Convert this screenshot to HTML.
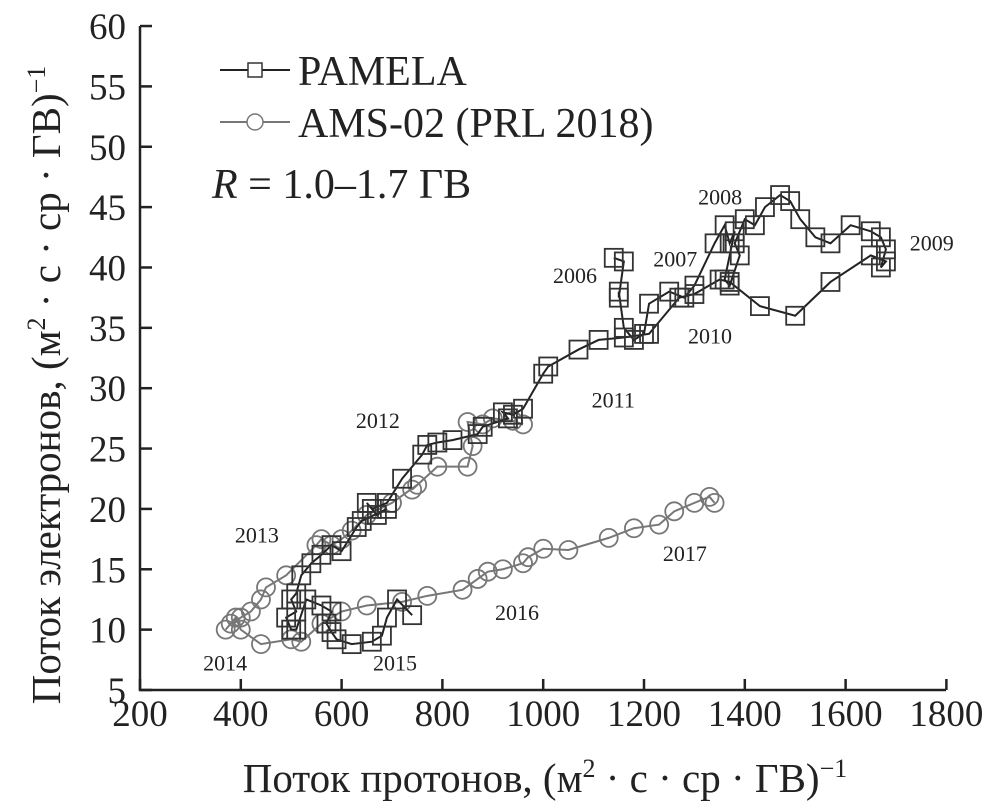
<!DOCTYPE html>
<html><head><meta charset="utf-8"><style>
body{margin:0;background:#fff}
svg{display:block;font-family:"Liberation Serif",serif}
</style></head><body>
<svg id="chart" width="993" height="809">
<g id="axes"></g><g id="ams"></g><g id="pam"></g><g id="ann"></g>
</svg>
<script>
const xTicks=[200,400,600,800,1000,1200,1400,1600,1800];
const yTicks=[5,10,15,20,25,30,35,40,45,50,55,60];
const pamX=[1140,1160,1150,1150,1160,1180,1200,1210,1250,1280,1300,1340,1360,1370,1380,1360,1370,1390,1380,1400,1420,1440,1470,1490,1510,1540,1570,1610,1650,1670,1680,1670,1680,1650,1570,1500,1430,1370,1350,1300,1270,1210,1160,1110,1070,1010,1000,960,940,920,930,880,870,820,790,770,760,720,690,660,650,670,690,640,630,600,580,560,540,520,510,500,510,490,500,510,530,560,580,570,580,590,620,660,680,690,710,740];
const pamY=[40.8,40.5,37.5,38,35,34,34.5,37,38,37.5,38.5,42,43.5,42,43,39,38.5,41,42,44,43.5,45,46,45.5,44,42.5,42,43.5,43,42.5,41.5,40,40.5,41,38.8,36,36.8,38.8,39,37.8,37.5,34.5,34.2,34,33.2,31.8,31.2,28.3,27.8,28,27.5,26.8,26.2,25.7,25.5,25.3,24.5,22.5,20.5,20,20.5,19.5,20,19,18.5,16.5,17,16.2,15.5,14.5,13,12.5,11.5,11,10,10,12.5,12,11.5,10.5,9.8,9.2,8.8,9,9.5,11,12.5,11.2];
const amsX=[960,940,900,880,850,860,850,790,740,750,700,650,620,600,580,560,550,490,450,440,420,400,380,370,390,400,440,500,520,560,600,650,720,770,840,870,890,920,960,970,1000,1050,1130,1180,1230,1260,1300,1330,1340];
const amsY=[27,27.3,27.5,27,27.2,25.2,23.5,23.5,21.6,22,20.5,19.5,18.2,17.5,17,17.5,17,14.5,13.5,12.5,11.5,11,10.5,10,11,10,8.8,9.2,9,10.5,11.5,12,12.3,12.8,13.3,14.2,14.8,15,15.5,16,16.7,16.6,17.6,18.4,18.7,19.8,20.5,21,20.5];
const yearLabels=["2006","2007","2008","2009","2010","2011","2012","2013","2014","2015","2016","2017"];
const yearX=[1063,1262,1351,1771,1331,1139,672,432,369,706,948,1281];
const yearY=[38.7,40.1,45.2,41.4,33.7,28.4,26.7,17.2,6.6,6.6,10.8,15.7];
const NS="http://www.w3.org/2000/svg";
const sx=v=>140+(v-200)/200*100.8;
const sy=v=>690-(v-5)/5*60.36;
function mk(tag,at,parent){const e=document.createElementNS(NS,tag);for(const k in at)e.setAttribute(k,at[k]);document.getElementById(parent).appendChild(e);return e;}
let a=mk('path',{d:`M140,26 V690 H946`,fill:'none',stroke:'#222','stroke-width':2.5},'axes');


xTicks.forEach(t=>{
 const l=mk('line',{x1:sx(t),x2:sx(t),y1:690,y2:679,stroke:'#222','stroke-width':2.5},'axes');
 
 
 const tx=mk('text',{x:sx(t),y:726,'text-anchor':'middle','font-size':37,fill:'#222'},'axes');tx.textContent=t;
 
 
});
yTicks.forEach(t=>{
 const l=mk('line',{x1:140,x2:152,y1:sy(t),y2:sy(t),stroke:'#222','stroke-width':2.5},'axes');
 
 
 const tx=mk('text',{x:126,y:sy(t)+13,'text-anchor':'end','font-size':37,fill:'#222'},'axes');tx.textContent=t;
 
 
});
let p=mk('polyline',{points:amsX.map((x,i)=>sx(x)+','+sy(amsY[i])).join(' '),fill:'none',stroke:'#777','stroke-width':2},'ams');


amsX.forEach((x,i)=>{const c=mk('circle',{cx:sx(x),cy:sy(amsY[i]),r:9,fill:'none',stroke:'#777','stroke-width':1.8},'ams');
 
 });
p=mk('polyline',{points:pamX.map((x,i)=>sx(x)+','+sy(pamY[i])).join(' '),fill:'none',stroke:'#222','stroke-width':2},'pam');


pamX.forEach((x,i)=>{const r=mk('rect',{x:sx(x)-9,y:sy(pamY[i])-9,width:18,height:18,fill:'none',stroke:'#333','stroke-width':1.8},'pam');
 
 });
yearLabels.forEach((s,i)=>{const t=mk('text',{x:sx(yearX[i]),y:sy(yearY[i]),'text-anchor':'middle','font-size':22,fill:'#222'},'ann');t.textContent=s;
 
 });
</script>
<svg style="position:absolute;left:0;top:0" width="993" height="809">
<g>
<line x1="220" y1="70" x2="290" y2="70" stroke="#222" stroke-width="2"/>
<rect x="248" y="63" width="14" height="14" fill="#fff" stroke="#333" stroke-width="1.5"/>
<text x="298" y="85" font-size="42" fill="#222">PAMELA</text></g>
<g>
<line x1="220" y1="122" x2="290" y2="122" stroke="#777" stroke-width="2"/>
<circle cx="255" cy="122" r="8" fill="#fff" stroke="#777" stroke-width="1.5"/>
<text x="298" y="137" font-size="42" fill="#222">AMS-02 (PRL 2018)</text></g>
<text x="212" y="198" font-size="42" fill="#222"><tspan font-style="italic">R</tspan> = 1.0–1.7 ГВ</text>
<text transform="translate(60,385) rotate(-90)" text-anchor="middle" font-size="41" fill="#222">Поток электронов, (м<tspan font-size="26" dy="-15">2</tspan><tspan dy="15"> · с · ср · ГВ)</tspan><tspan font-size="26" dy="-15">−1</tspan></text>
<text x="545" y="792" text-anchor="middle" font-size="41" fill="#222">Поток протонов, (м<tspan font-size="26" dy="-15">2</tspan><tspan dy="15"> · с · ср · ГВ)</tspan><tspan font-size="26" dy="-15">−1</tspan></text>
</svg>
</body></html>
